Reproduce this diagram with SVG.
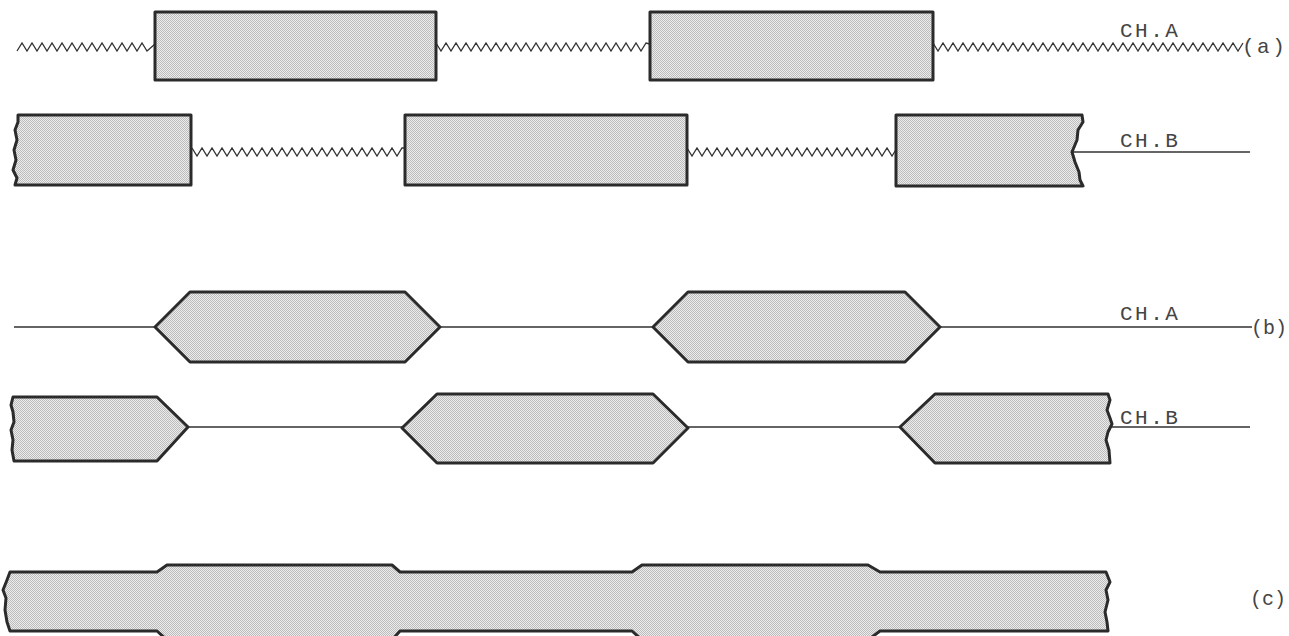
<svg xmlns="http://www.w3.org/2000/svg" width="1289" height="636" viewBox="0 0 1289 636">
<defs>
<pattern id="stip" width="2" height="2" patternUnits="userSpaceOnUse">
<rect width="2" height="2" fill="#ececec"/>
<rect width="1" height="1" fill="#bcbcbc"/>
<rect x="1" y="1" width="1" height="1" fill="#bcbcbc"/>
</pattern>
<style>
.blk{fill:url(#stip);stroke:#2b2b2b;stroke-width:3;stroke-linejoin:round}
.ln{fill:none;stroke:#333;stroke-width:1.3}
.zz{fill:none;stroke:#333;stroke-width:1.3;stroke-linejoin:miter}
.lbl{font-family:"Liberation Mono","DejaVu Sans Mono",monospace;font-size:21px;letter-spacing:2.5px;fill:#444}
.tag{font-family:"Liberation Mono","DejaVu Sans Mono",monospace;font-size:20px;fill:#444}
</style>
</defs>
<rect width="1289" height="636" fill="#fff"/>

<g id="connectors">
<path class="zz" d="M17,51 l5,-8 5,8 5,-8 5,8 5,-8 5,8 5,-8 5,8 5,-8 5,8 5,-8 5,8 5,-8 5,8 5,-8 5,8 5,-8 5,8 5,-8 5,8 5,-8 5,8 5,-8 5,8 5,-8 5,8 L155,44"/>
<path class="zz" d="M436,43 l5,8 5,-8 5,8 5,-8 5,8 5,-8 5,8 5,-8 5,8 5,-8 5,8 5,-8 5,8 5,-8 5,8 5,-8 5,8 5,-8 5,8 5,-8 5,8 5,-8 5,8 5,-8 5,8 5,-8 5,8 5,-8 5,8 5,-8 5,8 5,-8 5,8 5,-8 5,8 5,-8 5,8 5,-8 5,8 5,-8 5,8 5,-8 L650,44"/>
<path class="zz" d="M933,43 l5,8 5,-8 5,8 5,-8 5,8 5,-8 5,8 5,-8 5,8 5,-8 5,8 5,-8 5,8 5,-8 5,8 5,-8 5,8 5,-8 5,8 5,-8 5,8 5,-8 5,8 5,-8 5,8 5,-8 5,8 5,-8 5,8 5,-8 5,8 5,-8 5,8 5,-8 5,8 5,-8 5,8 5,-8 5,8 5,-8 5,8 5,-8 5,8 5,-8 5,8 5,-8 5,8 5,-8 5,8 5,-8 5,8 5,-8 5,8 5,-8 5,8 5,-8 5,8 5,-8 5,8 5,-8 5,8 5,-8"/>
<path class="zz" d="M192,148 l5,8 5,-8 5,8 5,-8 5,8 5,-8 5,8 5,-8 5,8 5,-8 5,8 5,-8 5,8 5,-8 5,8 5,-8 5,8 5,-8 5,8 5,-8 5,8 5,-8 5,8 5,-8 5,8 5,-8 5,8 5,-8 5,8 5,-8 5,8 5,-8 5,8 5,-8 5,8 5,-8 5,8 5,-8 5,8 5,-8 5,8 5,-8 L405,148"/>
<path class="zz" d="M687,148 l5,8 5,-8 5,8 5,-8 5,8 5,-8 5,8 5,-8 5,8 5,-8 5,8 5,-8 5,8 5,-8 5,8 5,-8 5,8 5,-8 5,8 5,-8 5,8 5,-8 5,8 5,-8 5,8 5,-8 5,8 5,-8 5,8 5,-8 5,8 5,-8 5,8 5,-8 5,8 5,-8 5,8 5,-8 5,8 5,-8 5,8 5,-8"/>
<path class="ln" d="M1072,152 L1250,152"/>
<path class="ln" d="M14,327 L155,327 M440,327 L653,327 M940,327 L1252,327"/>
<path class="ln" d="M188,427 L402,427 M688,427 L900,427 M1110,427 L1250,427"/>
</g>

<g id="a-cha-1"><rect class="blk" x="155" y="12" width="281" height="68"/></g>
<g id="a-cha-2"><rect class="blk" x="650" y="12" width="283" height="68"/></g>

<g id="a-chb-1"><path class="blk" d="M18,115 L191,115 L191,185 L15,185 L17,178 L13,170 L16,160 L14,150 L17,140 L15,130 L18,122 Z"/></g>
<g id="a-chb-2"><rect class="blk" x="405" y="115" width="282" height="70"/></g>
<g id="a-chb-3"><path class="blk" d="M896,115 L1082,115 L1083,122 L1078,130 L1077,140 L1072,152 L1075,162 L1079,172 L1080,180 L1083,186 L896,186 Z"/></g>

<g id="b-cha-1"><path class="blk" d="M155,327 L190,292 L405,292 L440,327 L405,362 L190,362 Z"/></g>
<g id="b-cha-2"><path class="blk" d="M653,327 L688,292 L905,292 L940,327 L905,362 L688,362 Z"/></g>

<g id="b-chb-1"><path class="blk" d="M13,397 L157,397 L188,427 L157,461 L14,461 L12,450 L13,440 L11,430 L14,422 L13,412 L11,405 Z"/></g>
<g id="b-chb-2"><path class="blk" d="M402,428 L437,394 L653,394 L688,428 L653,463 L437,463 Z"/></g>
<g id="b-chb-3"><path class="blk" d="M900,427 L935,394 L1108,394 L1110,400 L1107,410 L1110,418 L1112,424 L1108,432 L1106,440 L1109,450 L1110,463 L935,463 Z"/></g>

<g id="c-merged"><path class="blk" d="M10,572 L157,572 L167,565 L392,565 L400,572 L632,572 L642,565 L868,565 L880,572 L1106,572 L1110,582 L1106,590 L1108,600 L1105,612 L1107,622 L1108,631 L880,631 L868,640 L642,640 L632,631 L400,631 L392,640 L167,640 L157,631 L10,631 L7,622 L5,610 L6,598 L3,590 L7,580 Z"/></g>

<g id="labels">
<text class="lbl" x="1120" y="37">CH.A</text>
<text class="lbl" x="1242" y="53">(a)</text>
<text class="lbl" x="1120" y="147">CH.B</text>
<text class="lbl" x="1120" y="320">CH.A</text>
<text class="tag" x="1251" y="334">(b)</text>
<text class="lbl" x="1120" y="424">CH.B</text>
<text class="tag" x="1250" y="605">(c)</text>
</g>
</svg>
